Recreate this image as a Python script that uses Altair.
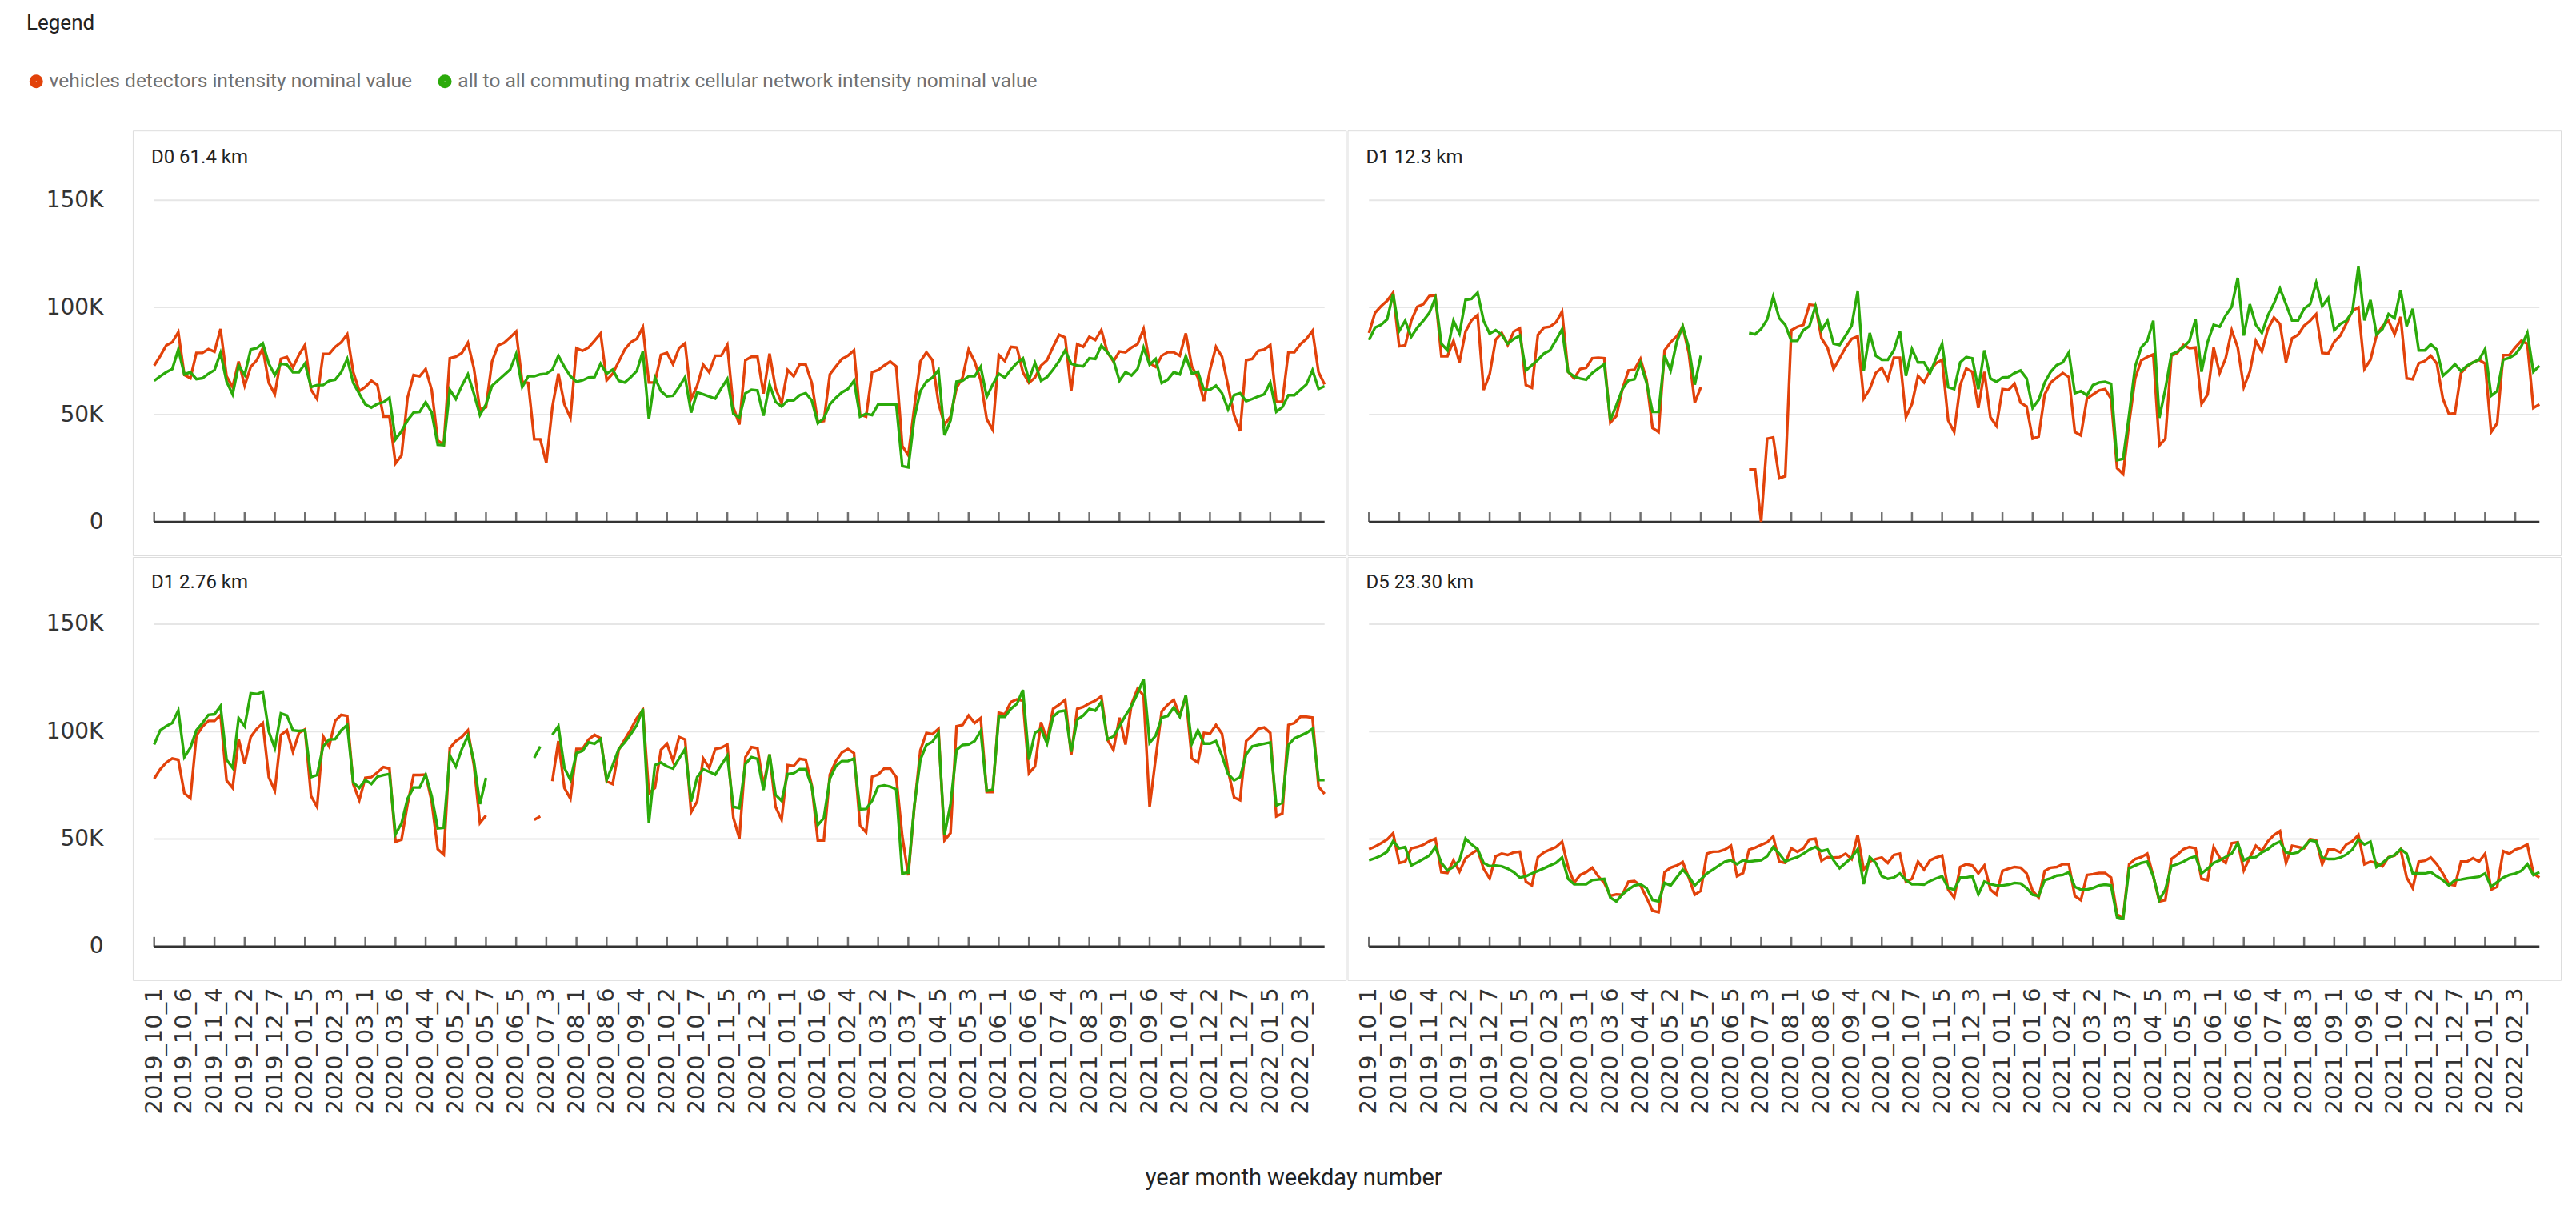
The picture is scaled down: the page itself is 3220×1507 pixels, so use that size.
import altair as alt
import pandas as pd

# ---------------- categories ----------------
months = ["2019_10", "2019_11", "2019_12",
          "2020_01", "2020_02", "2020_03", "2020_04", "2020_05", "2020_06",
          "2020_07", "2020_08", "2020_09", "2020_10", "2020_11", "2020_12",
          "2021_01", "2021_02", "2021_03", "2021_04", "2021_05", "2021_06",
          "2021_07", "2021_08", "2021_09", "2021_10", "2021_12",
          "2022_01", "2022_02"]
weekdays = [1, 2, 3, 4, 5, 6, 7]
missing = ["2021_07_7"]
categories = [f"{m}_{d}" for m in months for d in weekdays if f"{m}_{d}" not in missing]
tick_labels = categories[::5]

panels = ["D0 61.4 km", "D1 12.3 km", "D1 2.76 km", "D5 23.30 km"]
series = ["vehicles detectors intensity nominal value",
          "all to all commuting matrix cellular network intensity nominal value"]
colors = ["#E2420A", "#2BAA0A"]

N = None
# values in thousands
d0_red = [72.9, 77.3, 82.3, 83.8, 88.5, 68.5, 67, 78.8, 78.8, 80.6,
          79.4, 90, 67.9, 62.9, 74.8, 63.5, 72.3, 75.4, 81, 64.8,
          59.5, 76, 76.9, 72, 77.9, 82.5, 61.6, 57.3, 78.3, 78.3,
          81.6, 83.8, 87.5, 69.8, 61, 62.9, 65.8, 63.8, 49.1, 49.1,
          27.3, 31, 57.9, 68.5, 67.9, 71.3, 61.6, 37.9, 36, 76.3,
          77, 78.8, 83.5, 71.6, 52.3, 53.5, 74.8, 82.3, 83.5, 86,
          88.8, 65.4, 64.8, 38.5, 38.5, 27.5, 53.5, 69.1, 54.8, 48.5,
          81, 79.8, 81.3, 84.5, 87.9, 66, 69.1, 74.8, 80.4, 83.8,
          85.4, 90.8, 65, 65, 77.9, 78.8, 73.5, 81, 83.3, 57.3,
          63.5, 73.3, 69.8, 77.5, 77.5, 82.5, 53.5,
          45.4, 75.4, 77, 77, 59.8, 78.5, 62.3, 55.4, 70.8, 67.9,
          73.5, 73.3, 64.8, 46.6, 47, 68.8, 72.5, 76, 77.5, 80,
          50, 49.1, 69.8, 70.8, 72.9, 74.8, 72.5, 35.4, 31, 53.5,
          74.8, 79.1, 75.4, 55.4, 45.4, 49.1, 62.5, 67.3, 80.4, 74.8,
          66, 47.9, 42.9, 77.9, 75, 81.6, 81.3, 69.8, 64.8, 67.3,
          72.9, 75.4, 81.6, 87.3, 86, 61, 82.9, 81.6, 86.3, 84.8,
          89.5, 79.1, 74.8, 79.5, 79.1, 81.3, 82.9, 90, 74.1, 72.3,
          77.5, 79.1, 79.1, 77.5, 87.9, 72.5, 67.3, 56.3, 70.8, 81.6,
          77, 63.5, 49.8, 42.3, 75.4, 76, 79.8, 80.4, 82.5, 56,
          56, 79.1, 79.1, 82.9, 85.4, 89.1, 69.8, 64.1]
d0_green = [65.8, 67.9, 69.8, 71.3, 80.4, 68.8, 69.8, 66.6, 67, 69.1,
            70.8, 78.8, 65.4, 59.5, 72.9, 68.5, 80.4, 81, 83.3, 73.8,
            68.5, 73.8, 73.3, 69.8, 69.8, 73.8, 62.9, 63.8, 63.8, 65.8,
            66.3, 69.8, 76, 64.8, 59.8, 54.8, 53.3, 55, 55.8, 57.9,
            38.5, 42.3, 47.3, 51, 51.3, 55.8, 51, 36, 35.8, 61.6,
            57.3, 63.5, 68.8, 59.8, 49.8, 54.8, 63.5, 66, 68.5, 71,
            78.3, 62.9, 67.9, 67.9, 68.8, 69.1, 71, 77.5, 72.3, 67.9,
            65.4, 66, 67.3, 67.5, 73.8, 69.1, 71, 65.8, 65, 67.5,
            70.4, 79.5, 47.9, 67.3, 61, 58.5, 58.8, 62.9, 67.5, 51,
            60.4, 59.5, 58.5, 57.5, 62.3, 66.6, 50.4,
            48.5, 60, 61.6, 61.3, 49.5, 64.1, 56, 53.8, 56.6, 56.6,
            59.1, 60, 56.6, 46, 48.3, 54.8, 57.9, 60.4, 62, 65.8,
            49.1, 50.4, 49.8, 54.8, 54.8, 54.8, 54.8, 26, 25.4, 48.5,
            61, 65.4, 67.3, 70.8, 40.4, 47.3, 65.4, 65.8, 67.9, 67.9,
            72.3, 58.3, 64.1, 69.1, 67.3, 71, 74.1, 76.3, 66.3, 74.1,
            65.8, 67.5, 71, 75, 80, 73.8, 72.9, 72.5, 76.3, 76,
            82.3, 79.1, 75.4, 65.8, 69.8, 68.3, 71.3, 81.3, 73.3, 76,
            64.8, 66.3, 69.8, 68.8, 77.3, 69.1, 70, 61.6, 61.6, 63.5,
            60, 52.5, 59.1, 60, 56.3, 57.3, 58.5, 59.5, 65, 51.3,
            53.5, 59.1, 59.1, 61.6, 64.1, 70.8, 62, 63.3]

d1a_red = [88.1, 97.5, 100.6, 103.1, 106.9, 81.9, 82.3, 93.8, 100.3, 101.5,
           105.3, 105.6, 77.3, 77.3, 84.4, 74.4, 88.8, 94, 96.5, 61.5,
           68.8, 85, 88.1, 82.5, 88.8, 90.3, 63.8, 62.5, 87.3, 90.6,
           91, 93.1, 98.1, 70, 66.9, 71.3, 71.9, 76.3, 76.5, 76.3,
           46.3, 49.4, 61.9, 70.6, 71, 76, 66.3, 43.8, 41.9, 80,
           83.8, 86.5, 91, 78.8, 55.6, 62.8,
           N, N, N, N, N, N, N,
           24.4, 24.4, 0, 38.8, 39.4, 20.3, 21.3, 89.4, 91, 91.9,
           101.3, 101, 85.6, 81.3, 71.3, 76.3, 81.3, 85.3, 86.5, 57.5,
           61.9, 69.4, 71.9, 66.3, 76.5, 76.5, 48.8, 55, 68.1, 65,
           70.6, 74, 75.6, 47.3,
           41.9, 63.8, 71.5, 70, 53.1, 70, 48.8, 44.8, 61.9, 61.5,
           64.4, 55.6, 53.8, 38.8, 39.8, 59.4, 65, 67.3, 69.4, 67.5,
           41.9, 40.3, 57.5, 59.4, 61.3, 61.9, 57.5, 25, 22.3, 46.3,
           66.9, 75.3, 76.9, 78.1, 35.6, 38.8, 77.5, 78.8, 82.5, 81,
           81.3, 55, 59.4, 81.3, 69.4, 76.3, 89.4, 81.3, 62.8, 70,
           84.4, 79.4, 90, 95.3, 92.3, 74.4, 85.6, 87.3, 91.5, 93.8,
           96.9, 78.8, 78.5, 84, 86.9, 92.5, 98.5, 100, 71.3, 75.6,
           86.9, 91.3, 93.8, 87.5, 95.6, 66.9, 66.5, 74, 75, 77.5,
           73.8, 57.5, 50.3, 50.6, 69.4, 72.5, 74.4, 75.6, 73.8, 41.9,
           46, 77.8, 77.8, 81.3, 84.4, 83.1, 53.1, 54.8]
d1a_green = [84.8, 90.6, 91.9, 94.4, 106.3, 89, 93.8, 86.3, 90.6, 93.8,
             97.5, 104.4, 83.1, 80, 93.8, 87.8, 103.5, 104, 106.9, 93.8,
             87.8, 89.4, 87.3, 83.1, 85.3, 86.9, 70.6, 73.1, 75.6, 78.5,
             80, 84.8, 89.8, 70, 67.8, 66.9, 66.3, 69.4, 71.5, 73.5,
             47.5, 54.4, 61.9, 66, 66.5, 74, 65, 51.3, 51.3, 77.5,
             70.6, 83.8, 91.3, 81.3, 64, 77.5,
             N, N, N, N, N, N, N,
             88.1, 87.5, 90, 94.4, 105, 95, 91.9, 84.4, 84.4, 89.4,
             91.3, 100.6, 89.4, 93.8, 83.1, 82.5, 86.9, 91.5, 107.5, 70.6,
             88.1, 77.5, 75.6, 75.6, 80, 89, 68.1, 80.6, 74.4, 74.4,
             69.4, 76.3, 83.1, 62.8,
             61.9, 74.4, 76.9, 76.3, 61.9, 80, 66.9, 65.3, 67.3, 67.5,
             69.4, 70.6, 66.9, 53.1, 56.9, 65, 70, 73.1, 74.4, 79,
             60, 61, 59, 63.8, 65, 65.3, 64.4, 28.8, 29.4, 50,
             72.5, 81.3, 84.4, 93.8, 48.5, 61.9, 78.1, 79.4, 81.5, 84.4,
             94.4, 70, 83.8, 91.9, 91, 96.3, 100.3, 113.8, 86.9, 101.5,
             91.9, 88.1, 96.3, 101.9, 108.8, 101.5, 94, 94, 99.4, 101.5,
             111.5, 100.6, 104.4, 89.4, 92.3, 93.8, 98.1, 119, 94, 103.5,
             87.5, 90, 96.9, 95, 108.1, 91.3, 99.4, 80, 80, 82.8,
             80.3, 68.1, 70.6, 73.5, 70.3, 72.8, 74.4, 75.6, 80.6, 58.8,
             61, 75.6, 76.5, 78.1, 81.9, 88.1, 70, 72.8]

d1b_red = [78.1, 82.5, 85.6, 87.5, 86.9, 71.3, 69, 98.1, 102.3, 105,
           105, 107.8, 77.3, 73.8, 96.5, 85, 97.5, 101.3, 104, 78.8,
           72.5, 98.5, 100.6, 90.6, 99.4, 101, 70, 65, 97.8, 93.1,
           105, 107.8, 107.3, 75.6, 68.1, 78.5, 78.8, 81, 83.5, 82.8,
           48.8, 49.8, 66.3, 79.8, 79.8, 80, 67.5, 45.3, 42.8, 92.3,
           95.6, 97.5, 100.6, 84.4, 57.5, 61,
           N, N, N, N, N, N, N,
           59, 60.6, N,
           76.9, 95.6, 73.8, 68.8, 91.9, 91.9, 96.3, 98.5, 96.9, 76.9,
           75.6, 91.5, 96.3, 101, 106.3, 110, 71.3, 73.8, 91.5, 94.4,
           86.3, 97.5, 96.3, 62.5, 67.5, 87.5, 83.1, 91.9, 92.5, 94,
           60,
           50.3, 88.1, 92.8, 92.3, 75, 89.4, 65, 59, 84.4, 84,
           87.3, 86.9, 75, 49.4, 49.4, 80, 86.3, 90.3, 91.9, 90,
           56.3, 53.1, 79, 80, 82.8, 82.8, 78.8, 51.3, 33.1, 65,
           91.3, 99.4, 98.8, 101.3, 49.4, 52.8, 102.5, 103.1, 107.5, 104,
           106.3, 71.9, 71.9, 108.8, 108.1, 113.8, 115, 114.4, 80.6, 83.8,
           104.4, 96.3, 110.6, 112.5, 114.8, 89, 110.6, 111.5, 113.1, 114.4,
           116.5, 96.3, 91.5, 106.5, 94, 112.8, 120, 116.9, 65, 87.5,
           109.4, 112.5, 114.8, 107.5, 116.5, 87.5, 85.6, 99.4, 99, 103.1,
           99, 81.9, 69.4, 68.1, 95.6, 98.1, 101.3, 101.9, 99.4, 60.6,
           61.9, 103.1, 104, 106.9, 106.9, 106.5, 74.4, 71]
d1b_green = [94, 100.6, 102.5, 104, 109.8, 88.1, 92.5, 100.6, 104, 107.8,
             108.1, 111.9, 86.9, 83.1, 106.3, 102.5, 117.8, 117.5, 118.5, 100,
             92.3, 108.5, 107.5, 100.6, 100.3, 100.6, 78.8, 79.8, 93.1, 96.3,
             96.5, 100.6, 103.1, 76.3, 73.8, 77.5, 75.6, 79, 79.8, 80.3,
             52.3, 57.3, 68.8, 74, 74, 80, 70, 55, 55.3, 89,
             83.8, 91.9, 98.1, 86.3, 66.3, 78.5,
             N, N, N, N, N, N, N,
             87.8, 93.1, N,
             98.5, 102.5, 83.1, 77.5, 90, 91, 95, 94.4, 96.5, 77.5,
             84.4, 91.9, 95, 98.8, 103.1, 110.6, 57.5, 84.4, 85.6, 83.8,
             82.8, 87.5, 91.9, 67.5, 78.8, 82.5, 81.3, 80, 84.4, 88.8,
             65,
             64.4, 85, 88.1, 87.3, 72.8, 89.4, 70.6, 67.8, 80.3, 80.6,
             82.5, 82.5, 74.4, 56.5, 59.8, 78.1, 84, 86.3, 86.3, 87.5,
             63.8, 64, 67.8, 74.4, 75, 74.4, 73.1, 34, 34.4, 65.6,
             86.9, 93.8, 95.3, 99.4, 51.9, 66.3, 91.5, 93.8, 94, 95.6,
             100.3, 72.5, 73, 106.9, 106.9, 110.6, 112.9, 119.4, 86.9, 99.4,
             101.3, 94.4, 106.9, 109.4, 109.8, 90.6, 105.6, 107.5, 110.6, 109.8,
             113.8, 96.5, 97.8, 102.5, 107.5, 111.9, 117.8, 124.4, 94.8, 98.1,
             106.5, 107.3, 111.3, 106.9, 116.9, 94.4, 100.6, 94.4, 94.4, 95.6,
             88.8, 80.3, 77.3, 78.8, 89.4, 93.1, 93.8, 94.4, 95, 65.6,
             66.9, 93.8, 96.9, 98.1, 99.4, 101.3, 77.5, 77.5]

d5_red = [45.3, 46.5, 48.1, 49.8, 52.7, 38.9, 39.5,
          45.7, 46.3, 47.3, 49, 50.2, 34.6, 34.2,
          40.1, 34.9, 41.1, 43.2, 45.1, 36.2, 31.7,
          42, 43.2, 42.6, 43.8, 44.1, 30.2, 28.4,
          41.6, 43.8, 45.1, 46.3, 48.8, 37, 29.6,
          33.3, 34.6, 36.7, 32.7, 29.6, 23.6, 24.3,
          24.1, 30.2, 30.5, 28.4, 22.8, 16.7, 16,
          34.6, 36.7, 37.7, 39.3, 32.1, 24.1, 25.9,
          43.2, 44.1, 44.2, 45.1, 46.9, 32.7, 34.2,
          45.1, 46, 47.3, 48.5, 51.2, 39.5, 38.9,
          45.7, 44.1, 45.7, 49.8, 50.2, 39.9, 41.6,
          41.4, 41.6, 43.2, 40.7, 51.9, 35.8, 39.5,
          40.7, 41.4, 38.9, 42.6, 43.2, 30.2, 31.5,
          39.5, 35.8, 40.1, 41.4, 42.3, 26.5, 22.8,
          37, 38.3, 37.7, 34, 37.7, 26.5, 24.1,
          35.2, 36.2, 37, 36.7, 34, 25.9, 22.8,
          35.2, 36.7, 37, 38.3, 38.3, 23.5, 21.6,
          33.3, 33.7, 34.2, 34.2, 32.1, 14.8, 13.6,
          38.3, 40.7, 41.6, 43.2, 32.7, 21, 21.6,
          40.7, 42.8, 45.3, 46.3, 45.7, 31.5, 30.9,
          46.3, 41.4, 38.9, 48.1, 48.5, 35.4, 41.4,
          46.9, 44.4, 49, 51.9, 53.7, 38.9,
          46.9, 46.3, 45.7, 50, 49.4, 38.3, 45.1,
          45.1, 43.8, 47.5, 49, 51.9, 38.3, 39.5,
          38.9, 37.4, 41.6, 42.3, 45.1, 32.1, 27.2,
          39.5, 39.9, 41.4, 38.3, 34, 29, 28.4,
          39.5, 39.5, 41.1, 39.5, 43.2, 26.5, 27.8,
          44.4, 43.2, 45.1, 46, 47.5, 34, 32.1]
d5_green = [40.1, 41.1, 42.3, 44.1, 49, 45.7, 46.3,
            37.7, 39.1, 40.7, 42.3, 46.3, 38.9, 35.4,
            37, 40.1, 50.2, 47.5, 45.3, 38.9, 37.4,
            37.7, 37.3, 36.2, 34.6, 32.1, 32.7, 34,
            35.2, 36.4, 37.7, 38.9, 41.4, 31.5, 29,
            29, 29, 30.9, 31.2, 31.5, 22.8, 21,
            24.3, 26.5, 28.4, 29, 27.2, 21.6, 21,
            29.6, 28.4, 32.1, 35.8, 32.7, 28.4, 31.2,
            34, 35.8, 37.7, 39.5, 40.1, 38.3, 40.1,
            39.5, 39.9, 40.1, 42, 46.3, 43.2, 39.5,
            40.7, 41.6, 43.2, 45.1, 46.3, 44.4, 45.1,
            40.1, 36.4, 38.9, 41.4, 45.3, 29, 41.6,
            38.9, 32.7, 31.5, 32.1, 34, 30.9, 29,
            29, 28.8, 30.5, 31.7, 32.7, 27.2, 26.5,
            32.1, 32.1, 32.7, 24.3, 30.2, 29, 28.4,
            28.4, 28.8, 29.6, 29.3, 27.2, 24.1, 23.5,
            30.9, 31.7, 33, 33.3, 34.6, 27.8, 26.5,
            26.5, 27.2, 28.4, 28.8, 28.4, 13.6, 13,
            36.4, 37.7, 38.9, 39.5, 32.7, 21.6, 26.5,
            37.4, 38.3, 39.5, 41.1, 42, 34, 36.2,
            38.9, 40.1, 41.7, 43.2, 48.1, 40.1, 41.4,
            41.6, 43.8, 45.3, 47.5, 48.8, 43.8,
            43.2, 43.8, 46.3, 49.4, 48.8, 41.4, 40.7,
            40.7, 41.4, 42.8, 45.1, 49.8, 47.5, 48.8,
            37, 38.9, 41.4, 42.6, 45.3, 43.2, 34,
            34, 34, 34.6, 32.7, 30.9, 28.4, 30.9,
            31.2, 31.7, 32.1, 32.5, 34, 27.8, 30,
            32.1, 33.3, 34, 35.2, 38.3, 33.3, 34.6]

grid_values = [50000, 100000, 150000]
panel_data = [(d0_red, d0_green), (d1a_red, d1a_green), (d1b_red, d1b_green), (d5_red, d5_green)]

# ---------------- table ----------------
rows = []
for p, pair in zip(panels, panel_data):
    for s, vals in zip(series, pair):
        for c, v in zip(categories, vals):
            rows.append({"panel": p, "kind": "line", "series": s, "cat": c,
                         "value": None if v is None else v * 1000})
    for g in grid_values:
        for c in (categories[0], categories[-1]):
            rows.append({"panel": p, "kind": "grid", "series": "", "cat": c, "value": g})
    for c in (categories[0], categories[-1]):
        rows.append({"panel": p, "kind": "base", "series": "", "cat": c, "value": 0})
    for c in tick_labels:
        rows.append({"panel": p, "kind": "tick", "series": "", "cat": c, "value": 0})
    rows.append({"panel": p, "kind": "title", "series": "", "cat": categories[0], "value": 0})
df = pd.DataFrame(rows)

# ---------------- chart ----------------
W = 1517
legend = alt.Legend(title="Legend", orient="none", legendX=-133, legendY=-147,
                    direction="horizontal", titleOrient="top", titleAnchor="start",
                    titleFontSize=26, titleFontWeight="normal", titleColor="#222222",
                    titleFont="Roboto", titlePadding=47, labelFontSize=24.5,
                    labelColor="#707070", labelFont="Roboto", symbolType="circle",
                    symbolSize=64, symbolStrokeWidth=9, columnPadding=18,
                    labelOffset=4, padding=0, labelLimit=0)


def panel_chart(p, height, domain, title_y, show_x, show_y):
    x_axis = alt.Axis(values=tick_labels, labelAngle=-90, domain=False, ticks=False, grid=False,
                      labelPadding=9, labelFontSize=29, labelFont="DejaVu Sans",
                      labelColor="#333333", labelOverlap=False, labels=show_x, title=None)
    y_axis = alt.Axis(values=[0, 50000, 100000, 150000],
                      labelExpr="datum.value == 0 ? '0' : format(datum.value / 1000, 'd') + 'K'",
                      domain=False, ticks=False, grid=False, labelPadding=37, labelFontSize=28,
                      labelFont="DejaVu Sans", labelColor="#333333", labels=show_y, title=None)
    x_enc = alt.X("cat:O", scale=alt.Scale(domain=categories, range=[23, 1494]), axis=x_axis)
    y_enc = alt.Y("value:Q", scale=alt.Scale(domain=domain, nice=False, zero=False), axis=y_axis)
    base = alt.Chart().transform_filter(f"datum.panel == '{p}'")

    grid = base.transform_filter("datum.kind == 'grid'").mark_line(
        color="#E6E6E6", strokeWidth=2).encode(x=x_enc, y=y_enc, detail="value:Q")
    baseline = base.transform_filter("datum.kind == 'base'").mark_line(
        color="#333333", strokeWidth=2.5).encode(x=x_enc, y=y_enc)
    ticks = base.transform_filter("datum.kind == 'tick'").mark_tick(
        orient="vertical", size=12, thickness=2.5, yOffset=-6, color="#333333").encode(x=x_enc, y=y_enc)
    lines = base.transform_filter("datum.kind == 'line'").mark_line(
        strokeWidth=3.4, invalid="break-paths-filter-domains").encode(
        x=x_enc, y=y_enc,
        color=alt.Color("series:N", scale=alt.Scale(domain=series, range=colors), legend=legend))
    titles = base.transform_filter("datum.kind == 'title'").mark_text(
        align="left", baseline="middle", fontSize=24, font="Roboto", color="#222222").encode(
        x=alt.value(23), y=alt.value(title_y), text="panel:N")
    return alt.layer(grid, baseline, ticks, lines, titles).properties(width=W, height=height)


top_dom = [-15672, 182462]
bot_dom = [-15633, 181265]
top = alt.hconcat(panel_chart(panels[0], 531, top_dom, 34, False, True),
                  panel_chart(panels[1], 531, top_dom, 34, False, False), spacing=0)
bottom = alt.hconcat(panel_chart(panels[2], 529, bot_dom, 32, True, True),
                     panel_chart(panels[3], 529, bot_dom, 32, True, False), spacing=0)

chart = alt.vconcat(top, bottom, spacing=0, data=df).properties(
    title=alt.TitleParams("year month weekday number", orient="bottom", anchor="middle",
                          fontSize=29, fontWeight="normal", color="#222222", font="Roboto",
                          offset=66),
    padding={"left": 25, "top": 8, "right": 10, "bottom": 5}
).configure_view(stroke="#DEDEDE", strokeWidth=2).configure(font="Roboto", background="white")

chart.save("out.html", embed_options={"renderer": "svg", "actions": False})
